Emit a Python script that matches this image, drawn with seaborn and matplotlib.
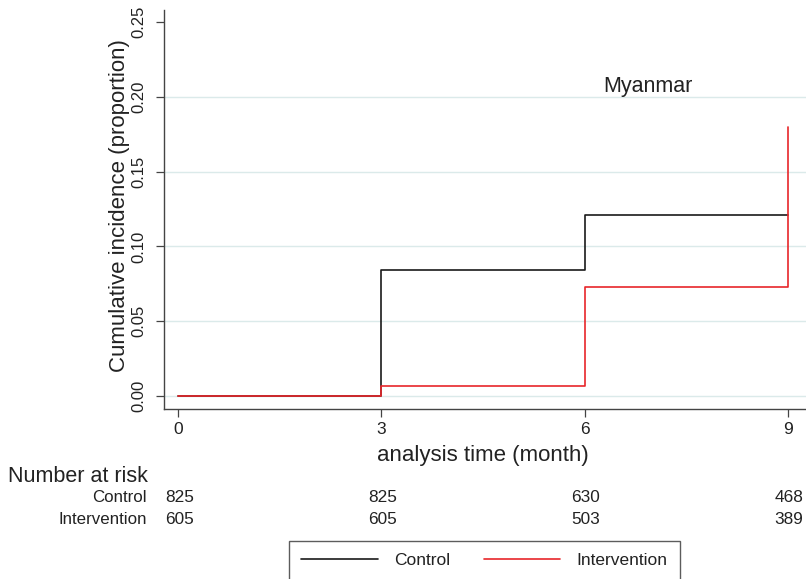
import matplotlib
matplotlib.use("Agg")
import matplotlib.pyplot as plt
import seaborn as sns
import pandas as pd
from matplotlib.lines import Line2D

# Cumulative incidence at each follow-up visit (months)
times = [0, 3, 6, 9]
control_inc = [0.0, 0.084, 0.121, 0.121]
intervention_inc = [0.0, 0.007, 0.073, 0.180]

# Number at risk table
risk_groups = ["Control", "Intervention"]
control_risk = [825, 825, 630, 468]
intervention_risk = [605, 605, 503, 389]

x_ticks = [0, 3, 6, 9]
y_ticks = [0.00, 0.05, 0.10, 0.15, 0.20, 0.25]
grid_levels = [0.00, 0.05, 0.10, 0.15, 0.20]

sns.set_theme(style="white")
plt.rcParams["font.family"] = ["Liberation Sans", "DejaVu Sans"]

df = pd.DataFrame({
    "time": times + times,
    "incidence": control_inc + intervention_inc,
    "group": ["Control"] * len(times) + ["Intervention"] * len(times),
})

W, H = 806, 579
fig = plt.figure(figsize=(W / 100, H / 100), dpi=100)
ax = fig.add_axes([164 / W, 1 - 409 / H, 1 - 164 / W, (409 - 10) / H])

for lv in grid_levels:
    ax.axhline(lv, color="#dbeaea", lw=1.0, zorder=0)

colors = {"Control": "#1a1a1a", "Intervention": "#e8262a"}
sns.lineplot(data=df, x="time", y="incidence", hue="group", palette=colors,
             drawstyle="steps-post", estimator=None, linewidth=1.2,
             legend=False, ax=ax)

ax.set_xlim(-0.21, 9.27)
ax.set_ylim(-0.0087, 0.258)
ax.set_xticks(x_ticks)
ax.set_xticklabels([str(t) for t in x_ticks])
ax.set_yticks(y_ticks)
ax.set_yticklabels([f"{v:.2f}" for v in y_ticks], rotation=90, va="center")

for side in ["top", "right"]:
    ax.spines[side].set_visible(False)
for side in ["left", "bottom"]:
    ax.spines[side].set_color("#444444")
    ax.spines[side].set_linewidth(1.0)

ax.tick_params(axis="both", which="major", direction="out", length=6,
               width=0.9, color="#444444", labelsize=12, labelcolor="#222222",
               left=True, bottom=True)
ax.tick_params(axis="y", pad=6.5)
ax.tick_params(axis="x", pad=3.5, labelsize=12.5)

ax.set_xlabel("analysis time (month)", fontsize=16, color="#222222", va="center")
ax.xaxis.set_label_coords((483 - 164) / (W - 164), (409 - 455) / (409 - 10))
ax.set_ylabel("Cumulative incidence (proportion)", fontsize=16, color="#222222",
              va="center")
ax.yaxis.set_label_coords((120 - 164) / (W - 164), 0.51)

ax.text(6.93, 0.207, "Myanmar", fontsize=15.5, color="#222222", ha="center", va="center")

# Number at risk table below the axis
fig.text(8 / W, 1 - 476 / H, "Number at risk", fontsize=15.5, color="#222222",
         ha="left", va="center")
risk_rows = [control_risk, intervention_risk]
row_y = [498, 519]
for name, counts, yp in zip(risk_groups, risk_rows, row_y):
    fig.text(147 / W, 1 - yp / H, name, fontsize=12.2, color="#222222",
             ha="right", va="center")
    for t, c in zip(times, counts):
        xf = ax.transData.transform((t, 0))[0] / fig.bbox.width
        fig.text(xf + 1 / W, 1 - yp / H, str(c), fontsize=12.4, color="#222222",
                 ha="center", va="center")

handles = [Line2D([], [], color=colors[g], lw=1.2) for g in risk_groups]
leg = fig.legend(handles, risk_groups, loc="upper center",
                 bbox_to_anchor=(484.5 / W, 1 - 541 / H), ncol=2,
                 fontsize=12.5, frameon=True, fancybox=False, handlelength=4.4,
                 columnspacing=1.95, handletextpad=0.95, borderpad=0.7,
                 borderaxespad=0)
leg.get_frame().set_edgecolor("#333333")
leg.get_frame().set_linewidth(1.0)
for t in leg.get_texts():
    t.set_color("#222222")

fig.savefig("out.png", dpi=100)
